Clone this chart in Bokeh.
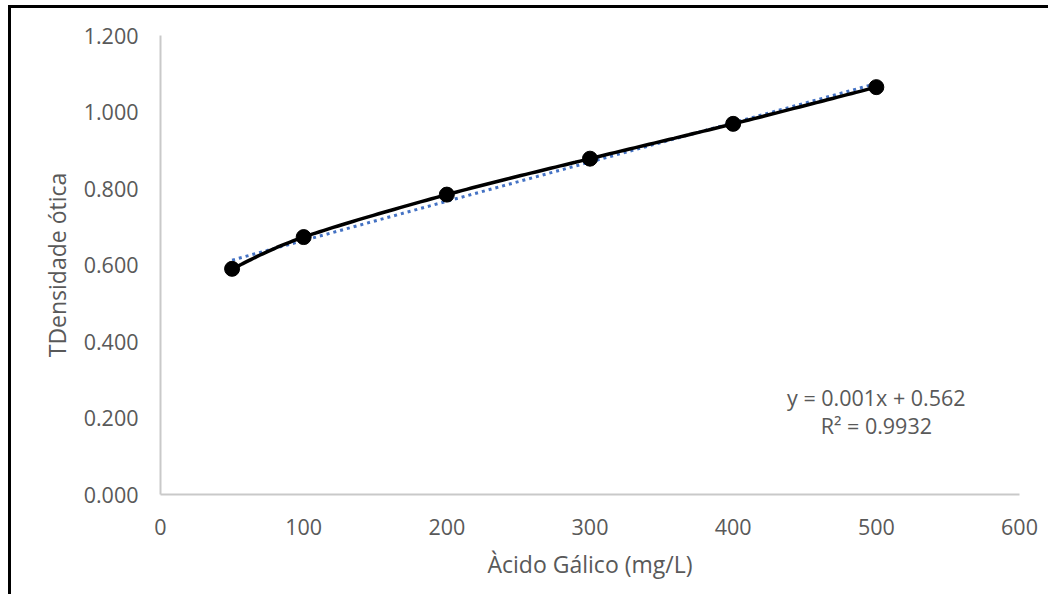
import numpy as np
from bokeh.plotting import figure
from bokeh.models import Range1d, FixedTicker, NumeralTickFormatter, Label
from bokeh.embed import file_html
from bokeh.resources import INLINE

# ---- data ----
concentration = [50, 100, 200, 300, 400, 500]
optical_density = [0.590, 0.673, 0.784, 0.878, 0.969, 1.065]
x_ticks = [0, 100, 200, 300, 400, 500, 600]
y_ticks = [0.0, 0.2, 0.4, 0.6, 0.8, 1.0, 1.2]
x_title = "Àcido Gálico (mg/L)"
y_title = "TDensidade ótica"
eq_lines = ["y = 0.001x + 0.562", "R² = 0.9932"]

FONT = "Open Sans"
GRAY = "#595959"

x = np.array(concentration, dtype=float)
y = np.array(optical_density, dtype=float)

# smoothed line (Catmull-Rom through the points, like a smoothed series)
def smooth(xs, ys, n=30):
    P = np.column_stack([xs, ys])
    P = np.vstack([P[0], P, P[-1]])
    out = []
    for i in range(1, len(P) - 2):
        p0, p1, p2, p3 = P[i - 1], P[i], P[i + 1], P[i + 2]
        c1 = p1 + (p2 - p0) / 6.0
        c2 = p2 - (p3 - p1) / 6.0
        t = np.linspace(0, 1, n)[:, None]
        seg = ((1 - t) ** 3) * p1 + 3 * ((1 - t) ** 2) * t * c1 + 3 * (1 - t) * t ** 2 * c2 + t ** 3 * p2
        out.append(seg if i == 1 else seg[1:])
    s = np.vstack(out)
    return s[:, 0], s[:, 1]

sx, sy = smooth(x, y)

# linear trendline
slope, intercept = np.polyfit(x, y, 1)
tx = np.array([x.min(), x.max()])
ty = slope * tx + intercept

p = figure(
    output_backend="svg", toolbar_location=None,
    frame_width=859, frame_height=459,
    x_range=Range1d(0, 600), y_range=Range1d(0, 1.2),
    min_border_left=149, min_border_top=27, min_border_right=29, min_border_bottom=100,
    background_fill_color="white", border_fill_color="white",
    margin=(5, 0, 0, 8),
    styles={"border-left": "3px solid black", "border-top": "3px solid black"},
)
p.outline_line_color = None
p.grid.visible = False

for ax in (p.xaxis[0], p.yaxis[0]):
    ax.axis_line_color = "#c9c9c9"
    ax.axis_line_width = 2
    ax.major_tick_line_color = None
    ax.minor_tick_line_color = None
    ax.major_label_text_font = FONT
    ax.major_label_text_font_size = "21.5px"
    ax.major_label_text_color = GRAY
    ax.axis_label_text_font = FONT
    ax.axis_label_text_font_size = "23px"
    ax.axis_label_text_font_style = "normal"
    ax.axis_label_text_color = GRAY

p.xaxis.ticker = FixedTicker(ticks=x_ticks)
p.yaxis.ticker = FixedTicker(ticks=y_ticks)
p.yaxis.formatter = NumeralTickFormatter(format="0.000")
p.xaxis.axis_label = x_title
p.yaxis.axis_label = y_title
p.xaxis.major_label_standoff = 18
p.yaxis.major_label_standoff = 16
p.xaxis.axis_label_standoff = 10
p.yaxis.axis_label_standoff = 8

p.line(tx, ty, line_color="#4472C4", line_width=3, line_dash="3 4")
p.line(sx, sy, line_color="black", line_width=3.5)
p.scatter(x, y, size=15, fill_color="black", line_color="black")

p.add_layout(Label(x=500, y=0.2536, text=eq_lines[0], text_align="center", text_baseline="middle",
                   text_font=FONT, text_font_size="21.5px", text_color=GRAY))
p.add_layout(Label(x=500, y=0.181, text=eq_lines[1], text_align="center", text_baseline="middle",
                   text_font=FONT, text_font_size="21.5px", text_color=GRAY))

open("out.html", "w").write(file_html(p, INLINE))
